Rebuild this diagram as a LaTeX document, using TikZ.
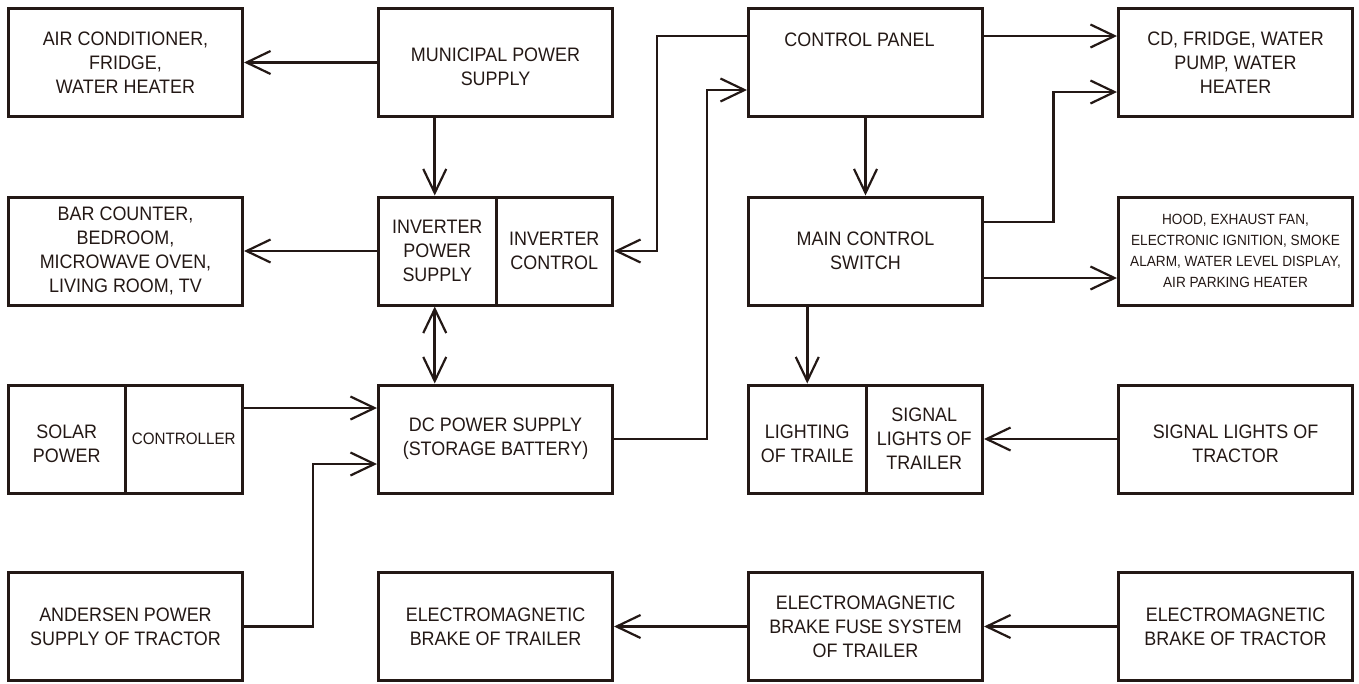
\documentclass[tikz,border=0pt]{standalone}
\usepackage{fontspec}
\setmainfont{Liberation Sans}[FakeStretch=0.92]
\usetikzlibrary{arrows.meta}
\definecolor{ink}{HTML}{231815}
\tikzset{
  box/.style={draw=ink, line width=3pt, minimum width=234pt, minimum height=108pt,
    inner sep=0pt, text=ink, align=center, font=\fontsize{19.5}{24}\selectfont},
  halfL/.style={box, minimum width=117.5pt},
  halfR/.style={box, minimum width=116.5pt},
  txt/.style={text=ink, align=center, inner sep=0pt, font=\fontsize{19.5}{24}\selectfont},
  barb/.tip={Straight Barb[length=24pt,width=23pt,line width=2.2pt]},
  conn/.style={draw=ink, line width=2.6pt, -barb},
  twoway/.style={draw=ink, line width=2.6pt, barb-barb},
}
\begin{document}
\begin{tikzpicture}[x=1pt,y=-1pt]
\useasboundingbox (0,0) rectangle (1359,683);
% row 1
\node[box] (air) at (125.5,62.5) {AIR CONDITIONER,\\FRIDGE,\\WATER HEATER};
\node[box] (mun) at (495.5,62.5) {};
\node[txt] (muntxt) at ([yshift=-4.5pt]mun.center) {MUNICIPAL POWER\\SUPPLY};
\node[box] (cp) at (865.5,62.5) {};
\node[txt] (cptxt) at ([xshift=-6pt,yshift=22.5pt]cp.center) {CONTROL PANEL};
\node[box] (cd) at (1235.5,62.5) {CD, FRIDGE, WATER\\PUMP, WATER\\HEATER};
% row 2
\node[box] (bar) at (125.5,251) {BAR COUNTER,\\BEDROOM,\\MICROWAVE OVEN,\\LIVING ROOM, TV};
\node[halfL] (invL) at (437.25,251) {INVERTER\\POWER\\SUPPLY};
\node[halfR] (invR) at (554.25,251) {INVERTER\\CONTROL};
\node[box] (main) at (865.5,251) {MAIN CONTROL\\SWITCH};
\node[box, font=\fontsize{14.8}{21}\selectfont] (hood) at (1235.5,251)
  {HOOD, EXHAUST FAN,\\ELECTRONIC IGNITION, SMOKE\\ALARM, WATER LEVEL DISPLAY,\\AIR PARKING HEATER};
% row 3
\node[halfR] (solar) at (66.75,439) {};
\node[txt] (solartxt) at ([yshift=-5pt]solar.center) {SOLAR\\POWER};
\node[halfL, font=\fontsize{16.5}{20}\selectfont] (ctrl) at (183.75,439) {CONTROLLER};
\node[box] (dc) at (495.5,439) {DC POWER SUPPLY\\(STORAGE BATTERY)};
\node[halfL] (lightL) at (807.25,439) {};
\node[txt] (lighttxt) at ([yshift=-4.5pt]lightL.center) {LIGHTING\\OF TRAILE};
\node[halfR] (lightR) at (924.25,439) {SIGNAL\\LIGHTS OF\\TRAILER};
\node[box] (sigtr) at (1235.5,439) {};
\node[txt] (sigtrtxt) at ([yshift=-4.5pt]sigtr.center) {SIGNAL LIGHTS OF\\TRACTOR};
% row 4
\node[box] (and) at (125.5,626.5) {ANDERSEN POWER\\SUPPLY OF TRACTOR};
\node[box] (emtl) at (495.5,626.5) {ELECTROMAGNETIC\\BRAKE OF TRAILER};
\node[box] (fuse) at (865.5,626.5) {ELECTROMAGNETIC\\BRAKE FUSE SYSTEM\\OF TRAILER};
\node[box] (emtr) at (1235.5,626.5) {ELECTROMAGNETIC\\BRAKE OF TRACTOR};
% connectors
\draw[conn] (mun.west) -- (air.east);
\draw[conn] ([xshift=-2.5pt]mun.south -| invL.north) -- ([xshift=-2.5pt]invL.north);
\draw[conn] (invL.west) -- (bar.east);
\draw[twoway] ([xshift=-2.5pt]invL.south) -- ([xshift=-2.5pt]dc.north -| invL.south);
\draw[conn] ([yshift=31pt]ctrl.east) -- ([yshift=31pt]dc.west);
\draw[conn] (and.east) -- ++(69,0) |- ([yshift=-25pt]dc.west);
\draw[conn] (dc.east) -- ++(93,0) |- ([yshift=-27.5pt]cp.west);
\draw[conn] ([yshift=26.5pt]cp.west) -- ++(-90,0) |- (invR.east);
\draw[conn] ([yshift=26.5pt]cp.east) -- ([yshift=26.5pt]cd.west);
\draw[conn] (cp.south) -- (main.north);
\draw[conn] ([yshift=29pt]main.east) -- ++(69.5,0) |- ([yshift=-29.5pt]cd.west);
\draw[conn] ([yshift=-27pt]main.east) -- ([yshift=-27pt]hood.west);
\draw[conn] (main.south -| lightL.north) -- (lightL.north);
\draw[conn] (sigtr.west) -- (lightR.east);
\draw[conn] (emtr.west) -- (fuse.east);
\draw[conn] (fuse.west) -- (emtl.east);
\end{tikzpicture}
\end{document}
